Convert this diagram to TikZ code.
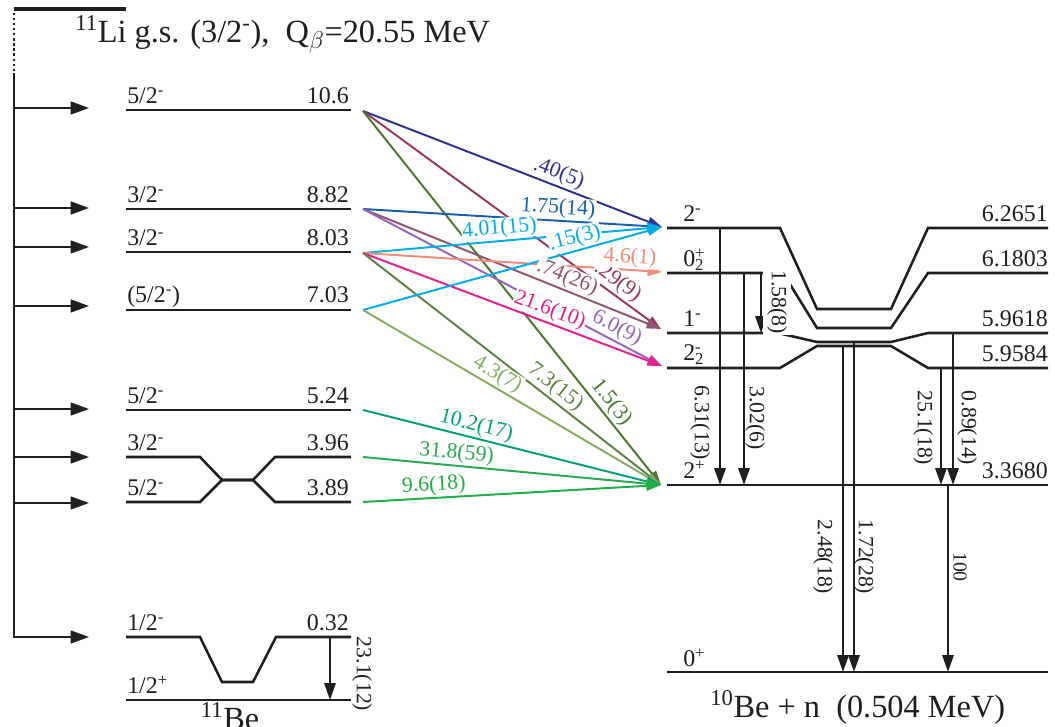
\documentclass[tikz,border=0pt]{standalone}
\usepackage{fontspec}
\setmainfont{Liberation Serif}
\usetikzlibrary{arrows.meta}

\definecolor{trNavy}{RGB}{46,49,146}
\definecolor{trMaroon}{RGB}{155,55,95}
\definecolor{trDarkGreen}{RGB}{75,120,45}
\definecolor{trBlue}{RGB}{25,95,175}
\definecolor{trMauve}{RGB}{145,85,115}
\definecolor{trPurple}{RGB}{150,100,185}
\definecolor{trCyan}{RGB}{0,172,236}
\definecolor{trSalmon}{RGB}{242,140,120}
\definecolor{trMagenta}{RGB}{232,30,140}
\definecolor{trOlive}{RGB}{95,130,65}
\definecolor{trLightGreen}{RGB}{135,172,95}
\definecolor{trTeal}{RGB}{0,160,120}
\definecolor{trGreen}{RGB}{40,170,80}
\definecolor{trGreenB}{RGB}{30,175,70}

\begin{document}
\begin{tikzpicture}[x=0.025cm, y=-0.025cm]
    \tikzstyle{lvl} = [line width=1.8pt, black!88]
    \tikzstyle{feed} = [line width=1.6pt, black!88, -{Triangle[length=4.6mm, width=3.2mm]}]
    \tikzstyle{gam} = [line width=1.6pt, black!88, -{Triangle[length=4.2mm, width=2.8mm]}]
    \tikzstyle{neut} = [line width=1.4pt, -{Triangle[length=3.6mm, width=2.4mm]}]
    \tikzstyle{lvlabel} = [font=\fontsize{17}{19}\selectfont, inner sep=0pt, text=black!88]
    \tikzstyle{trlabel} = [font=\fontsize{15.5}{17}\selectfont, inner sep=0.6pt, fill=white, sloped, above=1pt]
    \tikzstyle{vlabel} = [font=\fontsize{15.5}{17}\selectfont, inner sep=0.6pt, rotate=-90, text=black!88]
    \tikzstyle{bigtext} = [font=\fontsize{23}{26}\selectfont, inner sep=0pt, text=black!88]

    \useasboundingbox (0,0) rectangle (1055,727);

    % 11Li parent
    \draw [line width=3pt, black!88] (14,9) -- (126,9);
    \draw [line width=1.6pt, black!88, dotted] (14,13) -- (14,71);
    \draw [line width=1.6pt, black!88] (14,73) -- (14,638);
    \node (li_title) [bigtext, anchor=base west] at (75,43) {\textsuperscript{11}Li g.s. (3/2\textsuperscript{-}),\ \ Q$_\beta$=20.55 MeV};

    % Beta feeding
    \foreach \y [count=\i] in {108,208,247,306,409,457,503,637} {
        \coordinate (fa_\i) at (14,\y);
        \coordinate (fb_\i) at (89,\y);
        \draw [feed] (fa_\i) -- (fb_\i);
    }

    % 11Be levels
    \draw [lvl] (126,110) -- (351,110);
    \draw [lvl] (126,209) -- (351,209);
    \draw [lvl] (126,252) -- (351,252);
    \draw [lvl] (126,310) -- (351,310);
    \draw [lvl] (126,410) -- (351,410);
    \draw [lvl] (126,457) -- (200,457) -- (222,480) -- (253,480) -- (275,457) -- (351,457);
    \draw [lvl] (126,502) -- (200,502) -- (222,480) -- (253,480) -- (275,502) -- (351,502);
    \draw [lvl] (126,637) -- (200,637) -- (222,682) -- (253,682) -- (276,637) -- (351,637);
    \draw [lvl] (126,700) -- (351,700);

    \node (be_106s) [lvlabel, anchor=base west] at (127,104) {5/2\textsuperscript{-}};
    \node (be_106e) [lvlabel, anchor=base east] at (349,104) {10.6};
    \node (be_882s) [lvlabel, anchor=base west] at (127,203) {3/2\textsuperscript{-}};
    \node (be_882e) [lvlabel, anchor=base east] at (349,203) {8.82};
    \node (be_803s) [lvlabel, anchor=base west] at (127,246) {3/2\textsuperscript{-}};
    \node (be_803e) [lvlabel, anchor=base east] at (349,246) {8.03};
    \node (be_703s) [lvlabel, anchor=base west] at (127,303) {(5/2\textsuperscript{-})};
    \node (be_703e) [lvlabel, anchor=base east] at (349,303) {7.03};
    \node (be_524s) [lvlabel, anchor=base west] at (127,404) {5/2\textsuperscript{-}};
    \node (be_524e) [lvlabel, anchor=base east] at (349,404) {5.24};
    \node (be_396s) [lvlabel, anchor=base west] at (127,451) {3/2\textsuperscript{-}};
    \node (be_396e) [lvlabel, anchor=base east] at (349,451) {3.96};
    \node (be_389s) [lvlabel, anchor=base west] at (127,496) {5/2\textsuperscript{-}};
    \node (be_389e) [lvlabel, anchor=base east] at (349,496) {3.89};
    \node (be_032s) [lvlabel, anchor=base west] at (127,631) {1/2\textsuperscript{-}};
    \node (be_032e) [lvlabel, anchor=base east] at (349,631) {0.32};
    \node (be_000s) [lvlabel, anchor=base west] at (127,694) {1/2\textsuperscript{+}};
    \node (be_name) [bigtext, anchor=base] at (230,730) {\textsuperscript{11}Be};

    \coordinate (g_231a) at (330,637);
    \coordinate (g_231b) at (330,700);
    \draw [gam] (g_231a) -- (g_231b);
    \node (g_231l) [vlabel] at (362,674) {23.1(12)};

    % 10Be + n levels
    \draw [lvl] (667,228) -- (780,228) -- (817,309) -- (891,309) -- (928,228) -- (1048,228);
    \draw [lvl] (667,273) -- (783,273) -- (817,328) -- (891,328) -- (928,273) -- (1048,273);
    \draw [lvl] (667,333) -- (778,333) -- (817,342) -- (891,342) -- (928,333) -- (1048,333);
    \draw [lvl] (667,368) -- (780,368) -- (817,346) -- (891,346) -- (928,368) -- (1048,368);
    \draw [lvl] (667,485) -- (1048,485);
    \draw [lvl] (667,672) -- (1048,672);

    \node (bn_2ms) [lvlabel, anchor=base west] at (683,222) {2\textsuperscript{-}};
    \node (bn_2me) [lvlabel, anchor=base east] at (1048,222) {6.2651};
    \node (bn_0ps) [lvlabel, anchor=base west] at (683,267) {0\rlap{\textsuperscript{+}}\textsubscript{2}};
    \node (bn_0pe) [lvlabel, anchor=base east] at (1048,267) {6.1803};
    \node (bn_1ms) [lvlabel, anchor=base west] at (683,327) {1\textsuperscript{-}};
    \node (bn_1me) [lvlabel, anchor=base east] at (1048,327) {5.9618};
    \node (bn_22s) [lvlabel, anchor=base west] at (683,361) {2\rlap{\textsuperscript{-}}\textsubscript{2}};
    \node (bn_22e) [lvlabel, anchor=base east] at (1048,362) {5.9584};
    \node (bn_2ps) [lvlabel, anchor=base west] at (683,479) {2\textsuperscript{+}};
    \node (bn_2pe) [lvlabel, anchor=base east] at (1048,479) {3.3680};
    \node (bn_0gs) [lvlabel, anchor=base west] at (683,667) {0\textsuperscript{+}};
    \node (bn_name) [bigtext, anchor=base west] at (710,718) {\textsuperscript{10}Be + n\ \ (0.504 MeV)};

    % Gamma transitions in 10Be
    \coordinate (g_631a) at (720,228);  \coordinate (g_631b) at (720,485);
    \coordinate (g_302a) at (744,273);  \coordinate (g_302b) at (744,485);
    \coordinate (g_158a) at (761,273);  \coordinate (g_158b) at (761,333);
    \coordinate (g_251a) at (941,368);  \coordinate (g_251b) at (941,485);
    \coordinate (g_089a) at (953,333);  \coordinate (g_089b) at (953,485);
    \coordinate (g_248a) at (843,346);  \coordinate (g_248b) at (843,672);
    \coordinate (g_172a) at (854,342);  \coordinate (g_172b) at (854,672);
    \coordinate (g_100a) at (948,485);  \coordinate (g_100b) at (948,672);
    \draw [gam] (g_631a) -- (g_631b);
    \draw [gam] (g_302a) -- (g_302b);
    \draw [gam] (g_158a) -- (g_158b);
    \draw [gam] (g_251a) -- (g_251b);
    \draw [gam] (g_089a) -- (g_089b);
    \draw [gam] (g_248a) -- (g_248b);
    \draw [gam] (g_172a) -- (g_172b);
    \draw [gam] (g_100a) -- (g_100b);
    \node (g_631l) [vlabel] at (700,423) {6.31(13)};
    \node (g_302l) [vlabel] at (755,418) {3.02(6)};
    \node (g_158l) [vlabel, fill=white, inner ysep=3pt] at (777,302) {1.58(8)};
    \node (g_251l) [vlabel] at (923,428) {25.1(18)};
    \node (g_089l) [vlabel] at (967,428) {0.89(14)};
    \node (g_248l) [vlabel] at (823,557) {2.48(18)};
    \node (g_172l) [vlabel] at (864,557) {1.72(28)};
    \node (g_100l) [vlabel, font=\fontsize{14}{16}\selectfont] at (960,567) {100};

    % Neutron branches
    \coordinate (s_106) at (363,111);
    \coordinate (s_882) at (363,209);
    \coordinate (s_803) at (363,253);
    \coordinate (s_703) at (363,310);
    \coordinate (s_524) at (363,410);
    \coordinate (s_396) at (363,457);
    \coordinate (s_389) at (363,502);
    \coordinate (t_2m) at (662,227);
    \coordinate (t_0p) at (662,272);
    \coordinate (t_1m) at (661,329);
    \coordinate (t_22) at (662,366);
    \coordinate (t_2p) at (661,485);

    \draw [neut, trNavy] (s_106) -- (t_2m);
    \draw [neut, trMaroon] (s_106) -- (t_1m);
    \draw [neut, trDarkGreen] (s_106) -- (t_2p);
    \draw [neut, trBlue] (s_882) -- (t_2m);
    \draw [neut, trMauve] (s_882) -- (t_1m);
    \draw [neut, trPurple] (s_882) -- (t_22);
    \draw [neut, trCyan] (s_803) -- (t_2m);
    \draw [neut, trSalmon] (s_803) -- (t_0p);
    \draw [neut, trMagenta] (s_803) -- (t_22);
    \draw [neut, trOlive] (s_803) -- (t_2p);
    \draw [neut, trCyan] (s_703) -- (t_2m);
    \draw [neut, trLightGreen] (s_703) -- (t_2p);
    \draw [neut, trTeal] (s_524) -- (t_2p);
    \draw [neut, trGreen] (s_396) -- (t_2p);
    \draw [neut, trGreenB] (s_389) -- (t_2p);

    % Branch labels
    \path (s_106) -- node [trlabel, text=trNavy, pos=0.64] {.40(5)} (t_2m);
    \path (s_106) -- node [trlabel, text=trMaroon, pos=0.83] {.29(9)} (t_1m);
    \path (s_106) -- node [trlabel, text=trDarkGreen, pos=0.80] {1.5(3)} (t_2p);
    \path (s_882) -- node [trlabel, text=trBlue, pos=0.65] {1.75(14)} (t_2m);
    \path (s_882) -- node [trlabel, text=trMauve, pos=0.67] {.74(26)} (t_1m);
    \path (s_882) -- node [trlabel, text=trPurple, pos=0.83] {6.0(9)} (t_22);
    \path (s_803) -- node [trlabel, text=trCyan, pos=0.46] {4.01(15)} (t_2m);
    \path (s_803) -- node [trlabel, text=trSalmon, pos=0.89] {4.6(1)} (t_0p);
    \path (s_803) -- node [trlabel, text=trMagenta, pos=0.61] {21.6(10)} (t_22);
    \path (s_803) -- node [trlabel, text=trOlive, pos=0.62] {7.3(15)} (t_2p);
    \path (s_703) -- node [trlabel, text=trCyan, pos=0.72] {.15(3)} (t_2m);
    \path (s_703) -- node [trlabel, text=trLightGreen, pos=0.43] {4.3(7)} (t_2p);
    \path (s_524) -- node [trlabel, text=trTeal, pos=0.37] {10.2(17)} (t_2p);
    \path (s_396) -- node [trlabel, text=trGreen, pos=0.31] {31.8(59)} (t_2p);
    \path (s_389) -- node [trlabel, text=trGreenB, pos=0.24] {9.6(18)} (t_2p);
\end{tikzpicture}
\end{document}
